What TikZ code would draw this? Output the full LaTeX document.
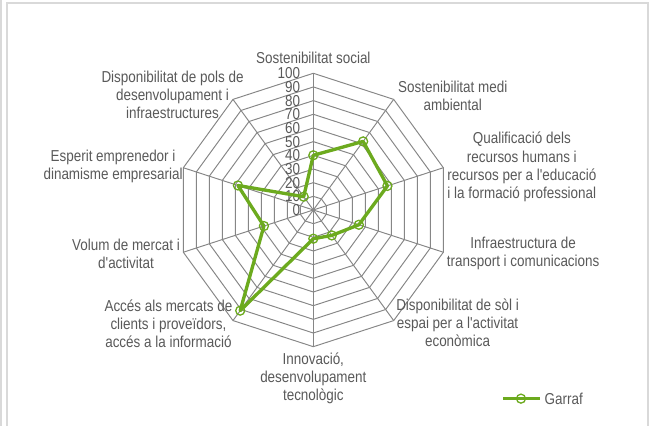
\documentclass[tikz,border=0pt]{standalone}
\usepackage{fontspec}
\newfontfamily\chartfont{Liberation Sans}[FakeStretch=0.85]
\definecolor{gridgray}{RGB}{134,134,134}
\definecolor{txtgray}{RGB}{89,89,89}
\definecolor{framegray}{RGB}{217,217,217}
\definecolor{garraf}{RGB}{108,170,30}
\tikzset{
  gridline/.style={gridgray, line width=0.55pt},
  num/.style={anchor=east, inner sep=0pt},
  axislabel/.style={align=center, inner sep=0pt},
  series/.style={garraf, line width=1.9pt, line join=round},
  dot/.style={circle, draw=garraf, line width=0.75pt, minimum size=0.18cm, inner sep=0pt}
}
\begin{document}
\begin{tikzpicture}[x=0.2734cm, y=0.2734cm, font=\chartfont\fontsize{9}{10.3}\selectfont, text=txtgray]
            \useasboundingbox (-22.92,-15.73) rectangle (24.7,15.36);

            \draw[framegray, line width=0.8pt] (-22.41,-16.5) -- (-22.41,15.14) -- (24.48,15.14) -- (24.48,-16.5);
            \draw[framegray, line width=0.8pt] (-22.85,-16.5) -- (-22.85,15.36);

            \draw[gridline] (90:1) -- (54:1) -- (18:1) -- (-18:1) -- (-54:1) -- (-90:1) -- (-126:1) -- (-162:1) -- (162:1) -- (126:1) -- cycle;
            \draw[gridline] (90:2) -- (54:2) -- (18:2) -- (-18:2) -- (-54:2) -- (-90:2) -- (-126:2) -- (-162:2) -- (162:2) -- (126:2) -- cycle;
            \draw[gridline] (90:3) -- (54:3) -- (18:3) -- (-18:3) -- (-54:3) -- (-90:3) -- (-126:3) -- (-162:3) -- (162:3) -- (126:3) -- cycle;
            \draw[gridline] (90:4) -- (54:4) -- (18:4) -- (-18:4) -- (-54:4) -- (-90:4) -- (-126:4) -- (-162:4) -- (162:4) -- (126:4) -- cycle;
            \draw[gridline] (90:5) -- (54:5) -- (18:5) -- (-18:5) -- (-54:5) -- (-90:5) -- (-126:5) -- (-162:5) -- (162:5) -- (126:5) -- cycle;
            \draw[gridline] (90:6) -- (54:6) -- (18:6) -- (-18:6) -- (-54:6) -- (-90:6) -- (-126:6) -- (-162:6) -- (162:6) -- (126:6) -- cycle;
            \draw[gridline] (90:7) -- (54:7) -- (18:7) -- (-18:7) -- (-54:7) -- (-90:7) -- (-126:7) -- (-162:7) -- (162:7) -- (126:7) -- cycle;
            \draw[gridline] (90:8) -- (54:8) -- (18:8) -- (-18:8) -- (-54:8) -- (-90:8) -- (-126:8) -- (-162:8) -- (162:8) -- (126:8) -- cycle;
            \draw[gridline] (90:9) -- (54:9) -- (18:9) -- (-18:9) -- (-54:9) -- (-90:9) -- (-126:9) -- (-162:9) -- (162:9) -- (126:9) -- cycle;
            \draw[gridline] (90:10) -- (54:10) -- (18:10) -- (-18:10) -- (-54:10) -- (-90:10) -- (-126:10) -- (-162:10) -- (162:10) -- (126:10) -- cycle;

            \coordinate (o) at (0,0);
            \coordinate (v1) at (90:10);
            \coordinate (v2) at (54:10);
            \coordinate (v3) at (18:10);
            \coordinate (v4) at (-18:10);
            \coordinate (v5) at (-54:10);
            \coordinate (v6) at (-90:10);
            \coordinate (v7) at (-126:10);
            \coordinate (v8) at (-162:10);
            \coordinate (v9) at (162:10);
            \coordinate (v10) at (126:10);
            \draw[gridline] (o) -- (v1);
            \draw[gridline] (o) -- (v2);
            \draw[gridline] (o) -- (v3);
            \draw[gridline] (o) -- (v4);
            \draw[gridline] (o) -- (v5);
            \draw[gridline] (o) -- (v6);
            \draw[gridline] (o) -- (v7);
            \draw[gridline] (o) -- (v8);
            \draw[gridline] (o) -- (v9);
            \draw[gridline] (o) -- (v10);

            \node[num] (n0) at (-0.95,0) {0};
            \node[num] (n10) at (-0.95,1) {10};
            \node[num] (n20) at (-0.95,2) {20};
            \node[num] (n30) at (-0.95,3) {30};
            \node[num] (n40) at (-0.95,4) {40};
            \node[num] (n50) at (-0.95,5) {50};
            \node[num] (n60) at (-0.95,6) {60};
            \node[num] (n70) at (-0.95,7) {70};
            \node[num] (n80) at (-0.95,8) {80};
            \node[num] (n90) at (-0.95,9) {90};
            \node[num] (n100) at (-0.95,10) {100};

            \node[axislabel] (social) at (0,11.1) {Sostenibilitat social};
            \node[axislabel] (medi) at (10.2,8.35) {Sostenibilitat medi\\ambiental};
            \node[axislabel] (qualif) at (15.25,3.15) {Qualificació dels\\recursos humans i\\recursos per a l'educació\\i la formació professional};
            \node[axislabel] (infra) at (15.35,-3.2) {Infraestructura de\\transport i comunicacions};
            \node[axislabel] (sol) at (10.55,-8.25) {Disponibilitat de sòl i\\espai per a l'activitat\\econòmica};
            \node[axislabel] (innov) at (0,-12.3) {Innovació,\\desenvolupament\\tecnològic};
            \node[axislabel] (acces) at (-10.6,-8.35) {Accés als mercats de\\clients i proveïdors,\\accés a la informació};
            \node[axislabel] (volum) at (-13.7,-3.2) {Volum de mercat i\\d'activitat};
            \node[axislabel] (esperit) at (-14.65,3.2) {Esperit emprenedor i\\dinamisme empresarial};
            \node[axislabel] (pols) at (-10.3,8.4) {Disponibilitat de pols de\\desenvolupament i\\infraestructures};

            \coordinate (p1) at (90:4);
            \coordinate (p2) at (54:6.2);
            \coordinate (p3) at (18:5.7);
            \coordinate (p4) at (-18:3.5);
            \coordinate (p5) at (-54:2.3);
            \coordinate (p6) at (-90:2.1);
            \coordinate (p7) at (-126:9.1);
            \coordinate (p8) at (-162:3.8);
            \coordinate (p9) at (162:5.8);
            \coordinate (p10) at (126:1.2);

            \draw[series] (p1) -- (p2) -- (p3) -- (p4) -- (p5) -- (p6) -- (p7) -- (p8) -- (p9) -- (p10) -- cycle;

            \node[dot] (m1) at (p1) {};
            \node[dot] (m2) at (p2) {};
            \node[dot] (m3) at (p3) {};
            \node[dot] (m4) at (p4) {};
            \node[dot] (m5) at (p5) {};
            \node[dot] (m6) at (p6) {};
            \node[dot] (m7) at (p7) {};
            \node[dot] (m8) at (p8) {};
            \node[dot] (m9) at (p9) {};
            \node[dot] (m10) at (p10) {};

            % legend
            \coordinate (lgA) at (13.88,-13.8);
            \coordinate (lgB) at (16.58,-13.8);
            \draw[series] (lgA) -- (lgB);
            \node[dot] (lgdot) at (15.19,-13.8) {};
            \node[anchor=west, inner sep=0pt] (lgtext) at (16.9,-13.8) {Garraf};
        \end{tikzpicture}
\end{document}
